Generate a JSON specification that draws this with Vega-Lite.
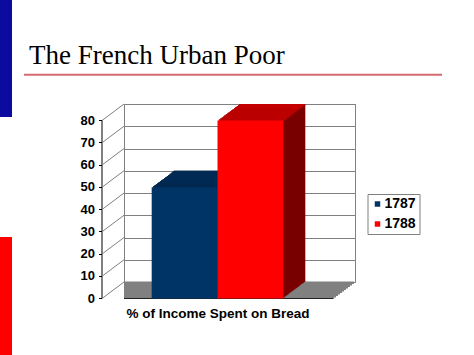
{
  "$schema": "https://vega.github.io/schema/vega-lite/v6.json",
  "width": 231,
  "height": 178,
  "autosize": {"type": "none"},
  "padding": {"left": 124, "top": 104, "right": 119, "bottom": 73},
  "background": "white",
  "title": {"text": "The French Urban Poor", "anchor": "start", "frame": "group", "dx": -95, "offset": -96.5, "baseline": "alphabetic", "font": "Liberation Serif", "fontSize": 27, "fontWeight": "normal", "color": "#000"},
  "datasets": {
    "bread": [{"year": "1787", "pct": 50}, {"year": "1788", "pct": 80}],
    "ticks": [{"v": 0}, {"v": 10}, {"v": 20}, {"v": 30}, {"v": 40}, {"v": 50}, {"v": 60}, {"v": 70}, {"v": 80}],
    "level": [{"level": 0}]
  },
  "resolve": {"scale": {"x": "independent"}, "axis": {"x": "independent", "y": "independent"}},
  "config": {"view": {"stroke": "#808080", "strokeWidth": 1}},
  "layer": [
    {
      "data": {"name": "level"},
      "encoding": {"y": {"field": "level", "type": "quantitative", "scale": {"domain": [0, 80], "nice": false}, "axis": null}},
      "layer": [
        {"mark": {"type": "rule", "color": "#808080", "strokeWidth": 2.4, "xOffset": -1.07, "x2Offset": -1.07, "yOffset": 0.8}},
        {"mark": {"type": "rule", "color": "#808080", "strokeWidth": 2.4, "xOffset": -3.05, "x2Offset": -3.05, "yOffset": 2.29}},
        {"mark": {"type": "rule", "color": "#808080", "strokeWidth": 2.4, "xOffset": -5.04, "x2Offset": -5.04, "yOffset": 3.78}},
        {"mark": {"type": "rule", "color": "#808080", "strokeWidth": 2.4, "xOffset": -7.03, "x2Offset": -7.03, "yOffset": 5.27}},
        {"mark": {"type": "rule", "color": "#808080", "strokeWidth": 2.4, "xOffset": -9.01, "x2Offset": -9.01, "yOffset": 6.76}},
        {"mark": {"type": "rule", "color": "#808080", "strokeWidth": 2.4, "xOffset": -11, "x2Offset": -11, "yOffset": 8.25}},
        {"mark": {"type": "rule", "color": "#808080", "strokeWidth": 2.4, "xOffset": -12.99, "x2Offset": -12.99, "yOffset": 9.74}},
        {"mark": {"type": "rule", "color": "#808080", "strokeWidth": 2.4, "xOffset": -14.97, "x2Offset": -14.97, "yOffset": 11.23}},
        {"mark": {"type": "rule", "color": "#808080", "strokeWidth": 2.4, "xOffset": -16.96, "x2Offset": -16.96, "yOffset": 12.72}},
        {"mark": {"type": "rule", "color": "#808080", "strokeWidth": 2.4, "xOffset": -18.95, "x2Offset": -18.95, "yOffset": 14.21}},
        {"mark": {"type": "rule", "color": "#808080", "strokeWidth": 2.4, "xOffset": -20.93, "x2Offset": -20.93, "yOffset": 15.7}},
        {"mark": {"type": "rule", "color": "#222222", "strokeWidth": 1, "xOffset": -22, "x2Offset": -22, "yOffset": 16.5}}
      ]
    },
    {
      "data": {"name": "ticks"},
      "mark": {"type": "rule", "color": "#808080", "strokeWidth": 1, "xOffset": -22, "yOffset": 16.5},
      "encoding": {
        "x": {"datum": 0, "type": "quantitative", "scale": {"domain": [0, 1], "nice": false, "zero": false}, "axis": null},
        "x2": {"datum": 0},
        "y": {"field": "v", "type": "quantitative", "scale": {"domain": [0, 80], "nice": false},
          "axis": {"orient": "left", "offset": 38.5, "translate": 16.5, "grid": false, "title": null, "values": [0, 10, 20, 30, 40, 50, 60, 70, 80], "labelFont": "Liberation Sans", "labelFontSize": 13, "labelFontWeight": "bold", "labelColor": "#000", "tickSize": 3, "tickColor": "#000", "domainColor": "#000", "labelPadding": 4}},
        "y2": {"field": "v"}
      }
    },
    {
      "data": {"name": "bread"},
      "encoding": {
        "x": {"field": "year", "type": "nominal", "scale": {"paddingInner": 0, "paddingOuter": 0.755},
          "axis": {"orient": "bottom", "labels": false, "ticks": false, "domain": false, "title": "% of Income Spent on Bread", "titleFont": "Liberation Sans", "titleFontSize": 13.5, "titleFontWeight": "bold", "titleColor": "#000", "titleX": 93.5, "titleY": 35, "titleBaseline": "alphabetic", "titleAlign": "center"}},
        "y": {"field": "pct", "type": "quantitative", "scale": {"domain": [0, 80], "nice": false},
          "axis": {"orient": "left", "grid": true, "gridColor": "#808080", "gridWidth": 1, "domain": false, "ticks": false, "labels": false, "title": null, "values": [0, 10, 20, 30, 40, 50, 60, 70, 80]}}
      },
      "layer": [
        {"mark": {"type": "bar", "xOffset": 0, "yOffset": 0, "y2Offset": 0}, "encoding": {"color": {"condition": {"test": "datum.year === '1787'", "value": "#001a33"}, "value": "#7a0000"}}},
        {"mark": {"type": "bar", "xOffset": -1.375, "yOffset": 1.031, "y2Offset": 1.031}, "encoding": {"color": {"condition": {"test": "datum.year === '1787'", "value": "#001a33"}, "value": "#7a0000"}}},
        {"mark": {"type": "bar", "xOffset": -2.75, "yOffset": 2.063, "y2Offset": 2.063}, "encoding": {"color": {"condition": {"test": "datum.year === '1787'", "value": "#001a33"}, "value": "#7a0000"}}},
        {"mark": {"type": "bar", "xOffset": -4.125, "yOffset": 3.094, "y2Offset": 3.094}, "encoding": {"color": {"condition": {"test": "datum.year === '1787'", "value": "#001a33"}, "value": "#7a0000"}}},
        {"mark": {"type": "bar", "xOffset": -5.5, "yOffset": 4.125, "y2Offset": 4.125}, "encoding": {"color": {"condition": {"test": "datum.year === '1787'", "value": "#001a33"}, "value": "#7a0000"}}},
        {"mark": {"type": "bar", "xOffset": -6.875, "yOffset": 5.156, "y2Offset": 5.156}, "encoding": {"color": {"condition": {"test": "datum.year === '1787'", "value": "#001a33"}, "value": "#7a0000"}}},
        {"mark": {"type": "bar", "xOffset": -8.25, "yOffset": 6.188, "y2Offset": 6.188}, "encoding": {"color": {"condition": {"test": "datum.year === '1787'", "value": "#001a33"}, "value": "#7a0000"}}},
        {"mark": {"type": "bar", "xOffset": -9.625, "yOffset": 7.219, "y2Offset": 7.219}, "encoding": {"color": {"condition": {"test": "datum.year === '1787'", "value": "#001a33"}, "value": "#7a0000"}}},
        {"mark": {"type": "bar", "xOffset": -11, "yOffset": 8.25, "y2Offset": 8.25}, "encoding": {"color": {"condition": {"test": "datum.year === '1787'", "value": "#001a33"}, "value": "#7a0000"}}},
        {"mark": {"type": "bar", "xOffset": -12.375, "yOffset": 9.281, "y2Offset": 9.281}, "encoding": {"color": {"condition": {"test": "datum.year === '1787'", "value": "#001a33"}, "value": "#7a0000"}}},
        {"mark": {"type": "bar", "xOffset": -13.75, "yOffset": 10.313, "y2Offset": 10.313}, "encoding": {"color": {"condition": {"test": "datum.year === '1787'", "value": "#001a33"}, "value": "#7a0000"}}},
        {"mark": {"type": "bar", "xOffset": -15.125, "yOffset": 11.344, "y2Offset": 11.344}, "encoding": {"color": {"condition": {"test": "datum.year === '1787'", "value": "#001a33"}, "value": "#7a0000"}}},
        {"mark": {"type": "bar", "xOffset": -16.5, "yOffset": 12.375, "y2Offset": 12.375}, "encoding": {"color": {"condition": {"test": "datum.year === '1787'", "value": "#001a33"}, "value": "#7a0000"}}},
        {"mark": {"type": "bar", "xOffset": -17.875, "yOffset": 13.406, "y2Offset": 13.406}, "encoding": {"color": {"condition": {"test": "datum.year === '1787'", "value": "#001a33"}, "value": "#7a0000"}}},
        {"mark": {"type": "bar", "xOffset": -19.25, "yOffset": 14.438, "y2Offset": 14.438}, "encoding": {"color": {"condition": {"test": "datum.year === '1787'", "value": "#001a33"}, "value": "#7a0000"}}},
        {"mark": {"type": "bar", "xOffset": -20.625, "yOffset": 15.469, "y2Offset": 15.469}, "encoding": {"color": {"condition": {"test": "datum.year === '1787'", "value": "#001a33"}, "value": "#7a0000"}}},
        {"mark": {"type": "bar", "xOffset": 0, "yOffset": 0, "y2Offset": 1.3}, "encoding": {"y2": {"field": "pct"}, "color": {"condition": {"test": "datum.year === '1787'", "value": "#002a54"}, "value": "#c40000"}}},
        {"mark": {"type": "bar", "xOffset": -1.375, "yOffset": 1.031, "y2Offset": 2.331}, "encoding": {"y2": {"field": "pct"}, "color": {"condition": {"test": "datum.year === '1787'", "value": "#002a54"}, "value": "#c40000"}}},
        {"mark": {"type": "bar", "xOffset": -2.75, "yOffset": 2.063, "y2Offset": 3.363}, "encoding": {"y2": {"field": "pct"}, "color": {"condition": {"test": "datum.year === '1787'", "value": "#002a54"}, "value": "#c40000"}}},
        {"mark": {"type": "bar", "xOffset": -4.125, "yOffset": 3.094, "y2Offset": 4.394}, "encoding": {"y2": {"field": "pct"}, "color": {"condition": {"test": "datum.year === '1787'", "value": "#002a54"}, "value": "#c40000"}}},
        {"mark": {"type": "bar", "xOffset": -5.5, "yOffset": 4.125, "y2Offset": 5.425}, "encoding": {"y2": {"field": "pct"}, "color": {"condition": {"test": "datum.year === '1787'", "value": "#002a54"}, "value": "#c40000"}}},
        {"mark": {"type": "bar", "xOffset": -6.875, "yOffset": 5.156, "y2Offset": 6.456}, "encoding": {"y2": {"field": "pct"}, "color": {"condition": {"test": "datum.year === '1787'", "value": "#002a54"}, "value": "#c40000"}}},
        {"mark": {"type": "bar", "xOffset": -8.25, "yOffset": 6.188, "y2Offset": 7.488}, "encoding": {"y2": {"field": "pct"}, "color": {"condition": {"test": "datum.year === '1787'", "value": "#002a54"}, "value": "#c40000"}}},
        {"mark": {"type": "bar", "xOffset": -9.625, "yOffset": 7.219, "y2Offset": 8.519}, "encoding": {"y2": {"field": "pct"}, "color": {"condition": {"test": "datum.year === '1787'", "value": "#002a54"}, "value": "#c40000"}}},
        {"mark": {"type": "bar", "xOffset": -11, "yOffset": 8.25, "y2Offset": 9.55}, "encoding": {"y2": {"field": "pct"}, "color": {"condition": {"test": "datum.year === '1787'", "value": "#002a54"}, "value": "#c40000"}}},
        {"mark": {"type": "bar", "xOffset": -12.375, "yOffset": 9.281, "y2Offset": 10.581}, "encoding": {"y2": {"field": "pct"}, "color": {"condition": {"test": "datum.year === '1787'", "value": "#002a54"}, "value": "#c40000"}}},
        {"mark": {"type": "bar", "xOffset": -13.75, "yOffset": 10.313, "y2Offset": 11.613}, "encoding": {"y2": {"field": "pct"}, "color": {"condition": {"test": "datum.year === '1787'", "value": "#002a54"}, "value": "#c40000"}}},
        {"mark": {"type": "bar", "xOffset": -15.125, "yOffset": 11.344, "y2Offset": 12.644}, "encoding": {"y2": {"field": "pct"}, "color": {"condition": {"test": "datum.year === '1787'", "value": "#002a54"}, "value": "#c40000"}}},
        {"mark": {"type": "bar", "xOffset": -16.5, "yOffset": 12.375, "y2Offset": 13.675}, "encoding": {"y2": {"field": "pct"}, "color": {"condition": {"test": "datum.year === '1787'", "value": "#002a54"}, "value": "#c40000"}}},
        {"mark": {"type": "bar", "xOffset": -17.875, "yOffset": 13.406, "y2Offset": 14.706}, "encoding": {"y2": {"field": "pct"}, "color": {"condition": {"test": "datum.year === '1787'", "value": "#002a54"}, "value": "#c40000"}}},
        {"mark": {"type": "bar", "xOffset": -19.25, "yOffset": 14.438, "y2Offset": 15.738}, "encoding": {"y2": {"field": "pct"}, "color": {"condition": {"test": "datum.year === '1787'", "value": "#002a54"}, "value": "#c40000"}}},
        {"mark": {"type": "bar", "xOffset": -20.625, "yOffset": 15.469, "y2Offset": 16.769}, "encoding": {"y2": {"field": "pct"}, "color": {"condition": {"test": "datum.year === '1787'", "value": "#002a54"}, "value": "#c40000"}}},
        {"mark": {"type": "bar", "xOffset": -22, "yOffset": 16.5, "y2Offset": 16.5},
          "encoding": {"color": {"field": "year", "type": "nominal", "scale": {"domain": ["1787", "1788"], "range": ["#003366", "#ff0000"]},
            "legend": {"title": null, "orient": "none", "legendX": 243.5, "legendY": 90, "symbolType": "square", "symbolSize": 30, "symbolStrokeWidth": 0, "labelFont": "Liberation Sans", "labelFontSize": 14, "labelFontWeight": "bold", "labelColor": "#000", "strokeColor": "#808080", "fillColor": "#ffffff", "padding": 3, "rowPadding": 6, "labelOffset": 0}}}}
      ]
    },
    {
      "data": {"name": "level"},
      "encoding": {"x": {"datum": 0, "type": "quantitative", "scale": {"domain": [0, 1], "nice": false, "zero": false}, "axis": null}},
      "layer": [
        {"mark": {"type": "rule", "color": "#d46a6f", "strokeWidth": 2, "xOffset": -100, "x2Offset": 87, "yOffset": -29.3},
          "encoding": {"x2": {"datum": 1}, "y": {"datum": 80, "type": "quantitative", "scale": {"domain": [0, 80], "nice": false}, "axis": null}}},
        {"mark": {"type": "rule", "color": "#0b0b9f", "strokeWidth": 12, "strokeCap": "butt", "xOffset": -118, "yOffset": -104, "y2Offset": 13},
          "encoding": {"y": {"datum": 80, "type": "quantitative", "scale": {"domain": [0, 80], "nice": false}, "axis": null}, "y2": {"datum": 80}}},
        {"mark": {"type": "rule", "color": "#ff0000", "strokeWidth": 12, "strokeCap": "butt", "xOffset": -118, "yOffset": -45, "y2Offset": 73},
          "encoding": {"y": {"datum": 0, "type": "quantitative", "scale": {"domain": [0, 80], "nice": false}, "axis": null}, "y2": {"datum": 0}}}
      ]
    }
  ]
}
